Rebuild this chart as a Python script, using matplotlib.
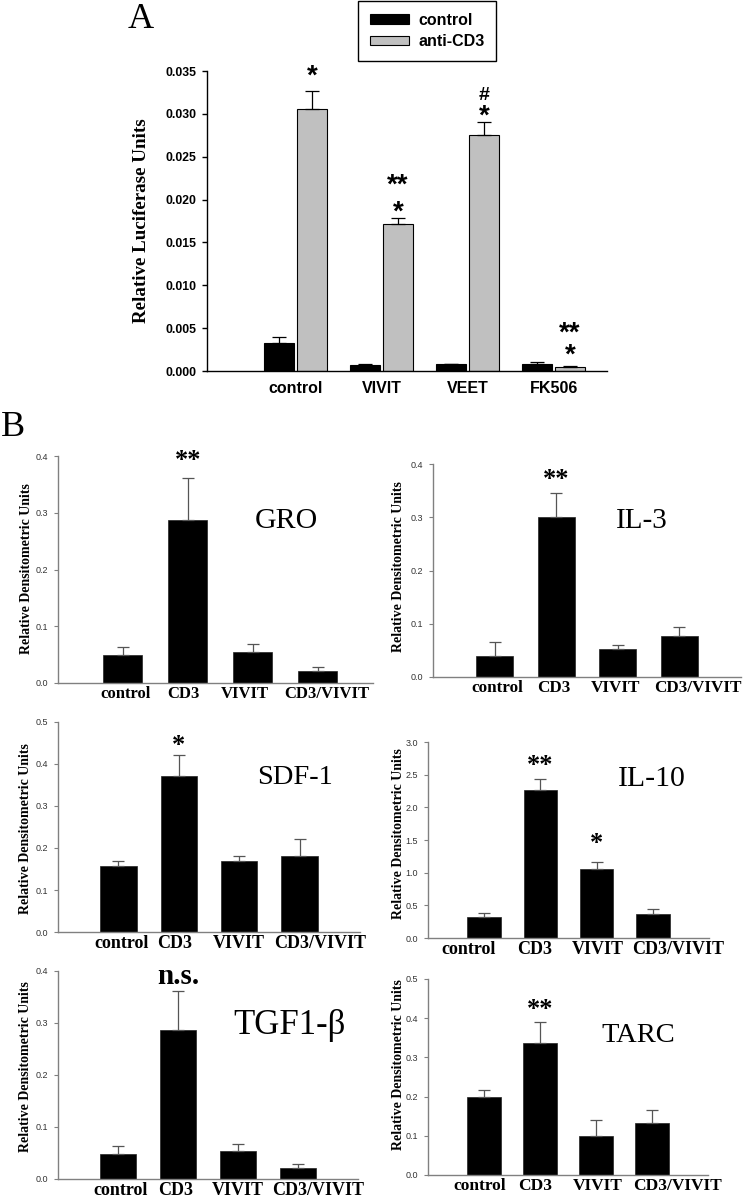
import matplotlib
matplotlib.use('Agg')
import matplotlib.pyplot as plt
import matplotlib.patches as mpatches
import matplotlib.transforms as mtransforms
import numpy as np

# ---------------- data ----------------
a_groups = ['control', 'VIVIT', 'VEET', 'FK506']
a_control = [0.0033, 0.00066, 0.0008, 0.0008]
a_control_err = [0.0007, 0.0001, 0.00005, 0.0003]
a_cd3 = [0.0306, 0.0172, 0.0275, 0.00047]
a_cd3_err = [0.0021, 0.0007, 0.0015, 0.00013]
a_mark_lower = ['*', '*', '*', '*']
a_mark_upper = ['', '**', '#', '**']
a_yticks = [0.000, 0.005, 0.010, 0.015, 0.020, 0.025, 0.030, 0.035]

b_categories = ['control', 'CD3', 'VIVIT', 'CD3/VIVIT']
gro_vals = [0.050, 0.288, 0.055, 0.022]
gro_err = [0.0135, 0.074, 0.013, 0.006]
il3_vals = [0.040, 0.301, 0.0526, 0.0764]
il3_err = [0.025, 0.045, 0.007, 0.017]
sdf1_vals = [0.157, 0.371, 0.170, 0.180]
sdf1_err = [0.012, 0.050, 0.012, 0.042]
il10_vals = [0.32, 2.27, 1.06, 0.37]
il10_err = [0.07, 0.16, 0.10, 0.07]
tgf_vals = [0.049, 0.2875, 0.054, 0.022]
tgf_err = [0.014, 0.0745, 0.014, 0.007]
tarc_vals = [0.200, 0.336, 0.0997, 0.132]
tarc_err = [0.016, 0.055, 0.041, 0.034]

ticks_04 = [0.0, 0.1, 0.2, 0.3, 0.4]
ticks_05 = [0.0, 0.1, 0.2, 0.3, 0.4, 0.5]
ticks_30 = [0.0, 0.5, 1.0, 1.5, 2.0, 2.5, 3.0]

# ---------------- figure ----------------
W, H = 743, 1199
fig = plt.figure(figsize=(W / 100, H / 100), dpi=100)
SANS = 'Liberation Sans'
SERIF = 'Liberation Serif'


def add_ax(x0, x1, ytop, ybot):
    return fig.add_axes([x0 / W, 1 - ybot / H, (x1 - x0) / W, (ybot - ytop) / H])


def ftext(x, y, s, **kw):
    fig.text(x / W, 1 - y / H, s, **kw)


# ---------------- panel A ----------------
axA = add_ax(207, 607, 71, 371)
xa = np.arange(1, len(a_groups) + 1)
off, bw = 0.19, 0.35
axA.bar(xa - off, a_control, width=bw, color='black', edgecolor='black', linewidth=0.8, zorder=2)
axA.bar(xa + off, a_cd3, width=bw, color='#c0c0c0', edgecolor='black', linewidth=0.8, zorder=2)
axA.errorbar(xa - off, a_control, yerr=[np.zeros(4), a_control_err], fmt='none',
             ecolor='black', elinewidth=0.9, capsize=5, capthick=0.9, zorder=3)
axA.errorbar(xa + off, a_cd3, yerr=[np.zeros(4), a_cd3_err], fmt='none',
             ecolor='black', elinewidth=0.9, capsize=5, capthick=0.9, zorder=3)
axA.set_xlim(-0.03, 4.62)
axA.set_ylim(0, 0.035)
axA.set_yticks(a_yticks)
axA.set_yticklabels(['%.3f' % t for t in a_yticks], fontfamily=SANS, fontweight='bold', fontsize=8.8)
axA.set_xticks(xa)
axA.set_xticklabels(a_groups, fontfamily=SANS, fontweight='bold', fontsize=11.5)
for s in ['top', 'right']:
    axA.spines[s].set_visible(False)
for s in ['left', 'bottom']:
    axA.spines[s].set_linewidth(1.0)
axA.tick_params(axis='y', direction='out', length=3.5, width=1, pad=4)
axA.tick_params(axis='x', length=0, pad=7)
axA.set_ylabel('Relative Luciferase Units', fontfamily=SERIF, fontweight='bold', fontsize=13.7)
axA.yaxis.set_label_coords(-0.1425, 0.5)

# significance marks (pixel distances of the mark centres above the error-bar tops)
lower_off = [18, 9.4, 9.6, 14]
upper_off = [0, 35.4, 29, 35.7]
STAR_FS = 20
star_px = STAR_FS * 100 / 72
lp_asc, lp_desc = 0.716 * star_px, 0.21 * star_px
for i in range(4):
    top = a_cd3[i] + a_cd3_err[i]
    up = a_mark_upper[i]
    if up == '#':
        axA.annotate(a_mark_lower[i], xy=(xa[i] + off, top), xytext=(0, lower_off[i] - 17),
                     textcoords='offset pixels', ha='center', va='bottom',
                     fontfamily=SANS, fontweight='bold', fontsize=STAR_FS)
        axA.annotate('#', xy=(xa[i] + off, top), xytext=(0, upper_off[i] - 2),
                     textcoords='offset pixels', ha='center', va='center',
                     fontfamily=SANS, fontweight='bold', fontsize=14)
    elif up:
        pitch = upper_off[i] - lower_off[i]
        ls = (pitch - lp_desc) / lp_asc
        axA.annotate(up + '\n' + a_mark_lower[i], xy=(xa[i] + off, top),
                     xytext=(0, lower_off[i] - 17), textcoords='offset pixels',
                     ha='center', va='bottom', multialignment='center', linespacing=ls,
                     fontfamily=SANS, fontweight='bold', fontsize=STAR_FS)
    else:
        axA.annotate(a_mark_lower[i], xy=(xa[i] + off, top), xytext=(0, lower_off[i] - 17),
                     textcoords='offset pixels', ha='center', va='bottom',
                     fontfamily=SANS, fontweight='bold', fontsize=STAR_FS)

handles = [mpatches.Patch(facecolor='black', edgecolor='black', linewidth=0.8, label='control'),
           mpatches.Patch(facecolor='#c0c0c0', edgecolor='black', linewidth=0.8, label='anti-CD3')]
leg = fig.legend(handles=handles, loc='upper left', bbox_to_anchor=(358 / W, 1 - 1 / H),
                 prop={'family': SANS, 'weight': 'bold', 'size': 11.5},
                 frameon=True, fancybox=False, edgecolor='black', framealpha=1,
                 handlelength=2.45, handleheight=0.56, handletextpad=0.56,
                 labelspacing=0.38, borderpad=0.75, borderaxespad=0)
leg.get_frame().set_linewidth(1.0)

ftext(141, 20, 'A', fontfamily=SERIF, fontsize=26, ha='center', va='center')
ftext(13, 428, 'B', fontfamily=SERIF, fontsize=26, ha='center', va='center')


# ---------------- panel B ----------------
def bpanel(rect, vals, errs, ticks, xmax, fs_tick, label_dx, name, name_xy, name_fs,
           ylab_xy, marks, tickfmt='%.1f', ytick_fs=6.5):
    ax = add_ax(*rect)
    xs = np.arange(1, len(vals) + 1)
    ax.bar(xs, vals, width=0.6, color='black', edgecolor='#222222', linewidth=0.5, zorder=2)
    ax.errorbar(xs, vals, yerr=[np.zeros(len(vals)), errs], fmt='none', ecolor='#555555',
                elinewidth=0.9, capsize=4, capthick=0.9, zorder=3)
    ax.set_xlim(0, xmax)
    ax.set_ylim(0, ticks[-1])
    ax.set_yticks(ticks)
    ax.set_yticklabels([tickfmt % t for t in ticks], fontfamily=SANS, fontsize=ytick_fs, color='#333333')
    ax.set_xticks(xs)
    ax.set_xticklabels([])
    for s in ['top', 'right']:
        ax.spines[s].set_visible(False)
    for s in ['left', 'bottom']:
        ax.spines[s].set_color('#808080')
        ax.spines[s].set_linewidth(1.0)
    ax.tick_params(axis='y', direction='out', length=3, width=0.8, color='#808080', pad=4)
    ax.tick_params(axis='x', length=0)
    # category labels, tied to the bar positions with a small horizontal nudge
    for xv, lab, dx in zip(xs, b_categories, label_dx):
        tr = ax.get_xaxis_transform() + mtransforms.ScaledTranslation(dx / 100, -3 / 100,
                                                                      fig.dpi_scale_trans)
        ax.text(xv, 0, lab, transform=tr, ha='center', va='top', fontfamily=SERIF,
                fontweight='bold', fontsize=fs_tick, clip_on=False)
    ftext(name_xy[0], name_xy[1] + 3, name, fontfamily=SERIF, fontsize=name_fs, ha='center', va='center')
    ftext(ylab_xy[0], ylab_xy[1], 'Relative Densitometric Units', fontfamily=SERIF,
          fontweight='bold', fontsize=10, rotation=90, ha='center', va='center')
    for idx, txt, dy, fs in marks:
        top = vals[idx] + errs[idx]
        ax.annotate(txt, xy=(xs[idx], top), xytext=(0, dy), textcoords='offset pixels',
                    ha='center', va='center', fontfamily=SERIF, fontweight='bold', fontsize=fs)
    return ax


bpanel((58, 373, 456, 683), gro_vals, gro_err, ticks_04, 4.85, 12, [3, -4, -8, 9],
       'GRO', (286, 518), 21.5, (27, 569), [(1, '**', 17, 19)])
bpanel((433, 741, 464, 677), il3_vals, il3_err, ticks_04, 5.0, 12.3, [3, -2, -2, 18],
       'IL-3', (642, 518), 21, (399, 567), [(1, '**', 13, 19)])
bpanel((58, 360, 722, 932), sdf1_vals, sdf1_err, ticks_05, 5.0, 13, [3, -4, 0, 21],
       'SDF-1', (295, 775), 20.5, (26, 829), [(1, '*', 10, 19)])
bpanel((428, 709, 742, 938), il10_vals, il10_err, ticks_30, 5.0, 13, [-16, -6, 1, 25],
       'IL-10', (652, 776), 21.5, (398, 834), [(1, '**', 14, 19), (2, '*', 19, 19)])
bpanel((58, 358, 971, 1179), tgf_vals, tgf_err, ticks_04, 5.0, 13, [3, -2, 0, 20],
       'TGF1-β', (289, 1022), 25, (26, 1067), [(1, 'n.s.', 14, 21)])
bpanel((428, 708, 979, 1175), tarc_vals, tarc_err, ticks_05, 5.0, 12.5, [-4.5, -5, 2, 26],
       'TARC', (638, 1032), 20.5, (398, 1065), [(1, '**', 12, 19)])

fig.savefig('out.png', dpi=100)
